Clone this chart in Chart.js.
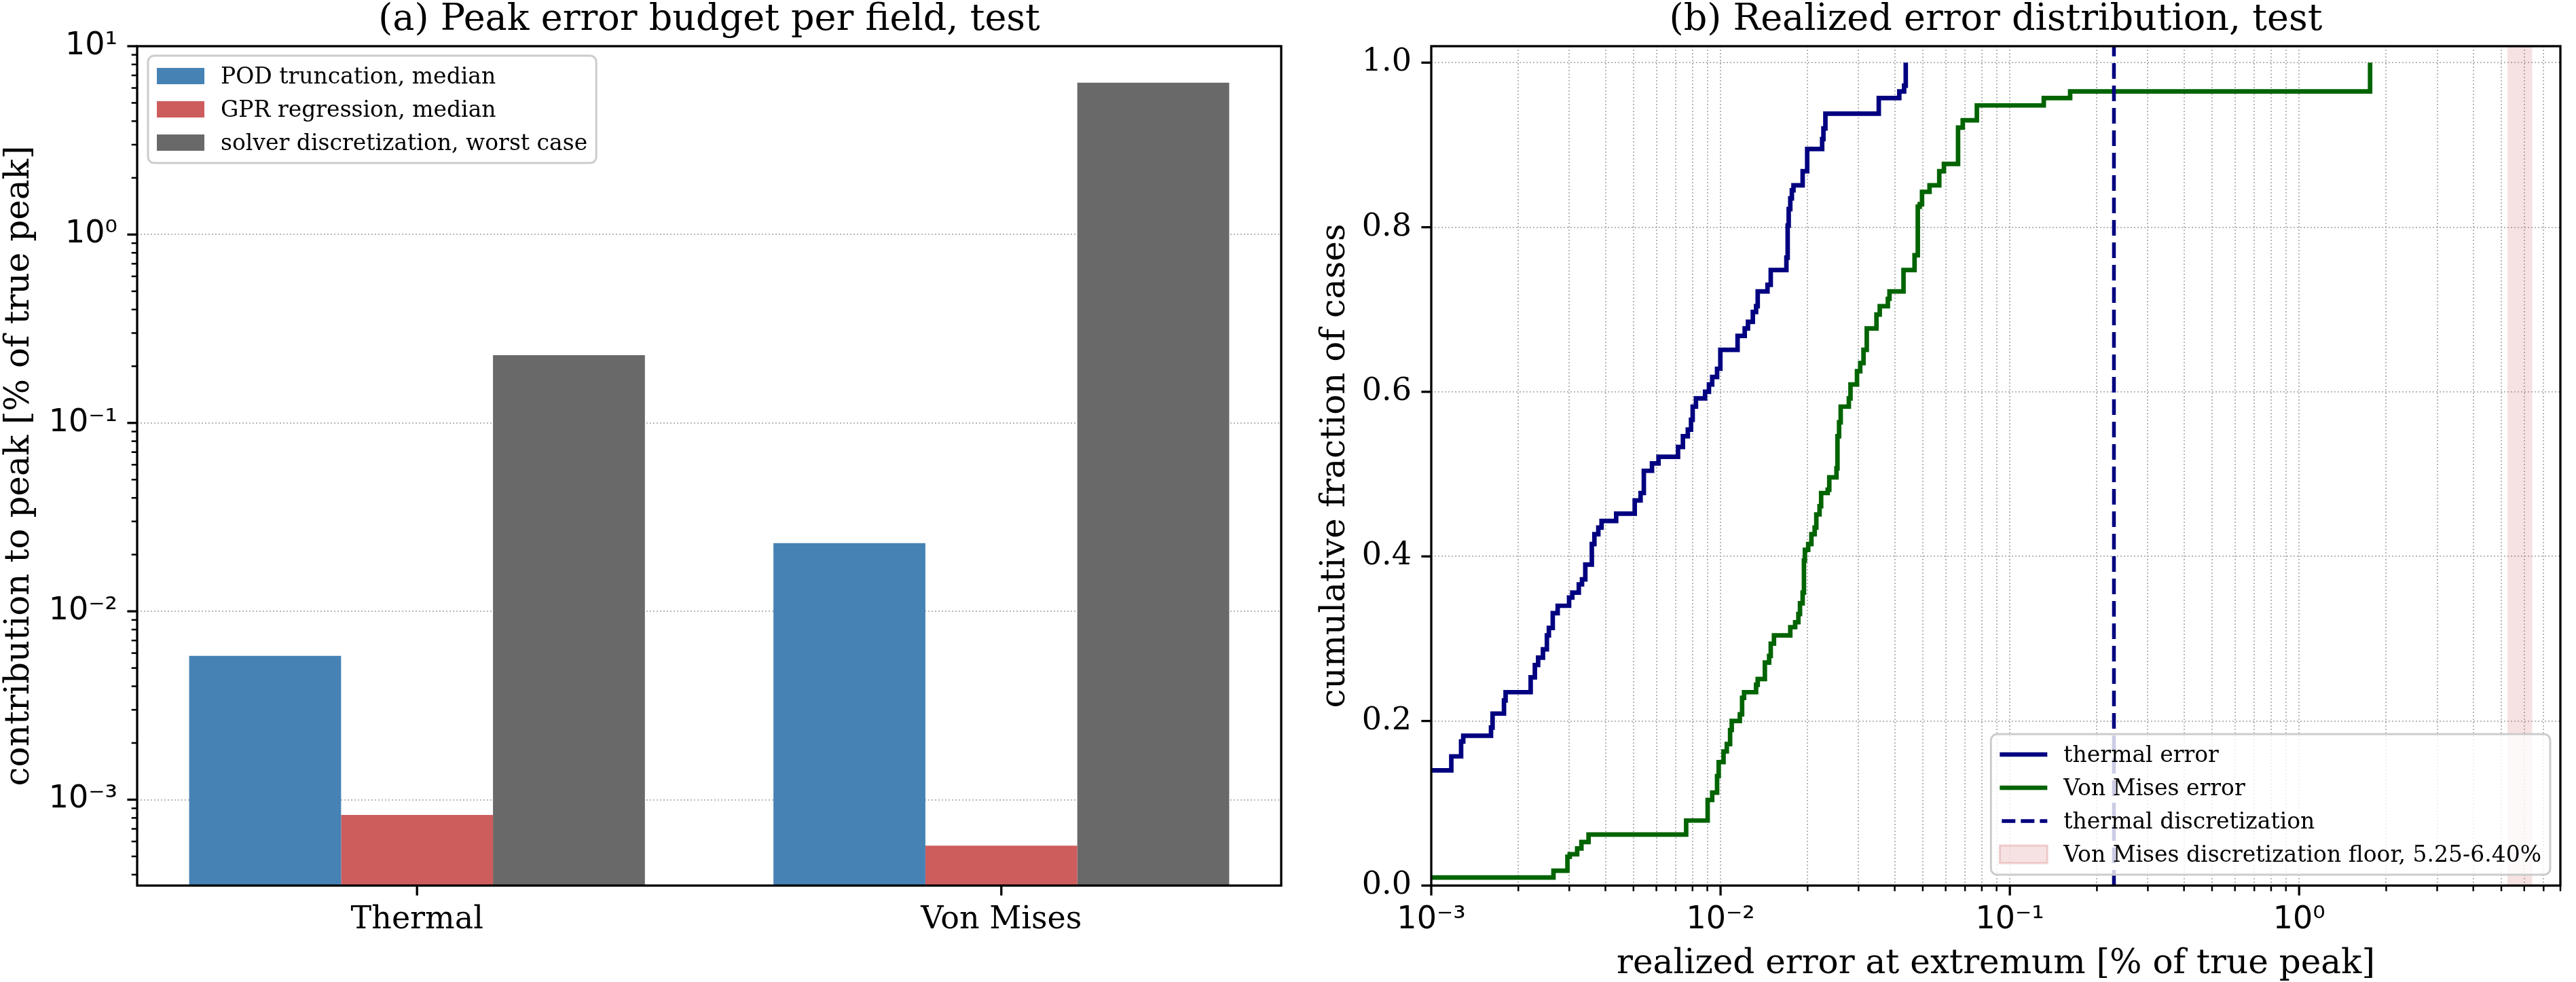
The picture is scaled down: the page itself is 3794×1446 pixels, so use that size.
<!DOCTYPE html>
<html>
<head>
<meta charset="utf-8">
<script src="https://cdn.jsdelivr.net/npm/chart.js@4.4.0/dist/chart.umd.min.js"></script>
<style>
  html, body { margin: 0; padding: 0; background: #fff; }
  #wrap { position: relative; width: 3794px; height: 1446px; overflow: hidden; background: #fff; }
  canvas { position: absolute; top: 0; }
</style>
</head>
<body>
<div id="wrap">
  <canvas id="budget" width="1900" height="1446" style="left:0"></canvas>
  <canvas id="cdf" width="1894" height="1446" style="left:1900px"></canvas>
</div>
<script>
// (a) peak error budget, % of true peak
const fields = ['Thermal', 'Von Mises'];
const podMedian = [0.0058, 0.023];
const gprMedian = [0.00083, 0.00057];
const solverWorst = [0.229, 6.40];

// (b) realized error CDF (x = error %, y = fraction)
const thermalErr = [0.0008, 0.001173, 0.001268, 0.00129, 0.001609, 0.001629, 0.001784, 0.001807, 0.002206, 0.002281,
  0.002341, 0.002433, 0.00251, 0.00255, 0.00263, 0.002735, 0.002995, 0.003073, 0.003236, 0.00332,
  0.003408, 0.003589, 0.003664, 0.00378, 0.003879, 0.004357, 0.00505, 0.005291, 0.00543, 0.005794,
  0.006104, 0.007129, 0.007412, 0.007706, 0.007907, 0.00801, 0.008221, 0.008841, 0.009118, 0.009357,
  0.009727, 0.009983, 0.01145, 0.01212, 0.01244, 0.01293, 0.01327, 0.01344, 0.01453, 0.01491,
  0.01689, 0.01706, 0.0172, 0.01742, 0.01764, 0.01787, 0.01922, 0.01993, 0.02245, 0.02268,
  0.02304, 0.03523, 0.04148, 0.04311, 0.04367];
const thermalCdf = [0.140, 0.157, 0.175, 0.182, 0.192, 0.209, 0.225, 0.235, 0.253, 0.268,
  0.277, 0.287, 0.304, 0.313, 0.331, 0.340, 0.350, 0.356, 0.366, 0.372,
  0.390, 0.415, 0.427, 0.435, 0.443, 0.452, 0.468, 0.477, 0.504, 0.513,
  0.521, 0.533, 0.546, 0.554, 0.566, 0.582, 0.592, 0.600, 0.609, 0.618,
  0.628, 0.651, 0.668, 0.677, 0.685, 0.697, 0.704, 0.722, 0.730, 0.748,
  0.763, 0.802, 0.822, 0.835, 0.845, 0.851, 0.868, 0.895, 0.907, 0.920,
  0.938, 0.957, 0.965, 0.972, 1.0];
const vmErr = [0.0008, 0.002645, 0.002956, 0.003011, 0.003194, 0.003304, 0.003497, 0.007605, 0.009024, 0.009357,
  0.009727, 0.009853, 0.01024, 0.01051, 0.01079, 0.01093, 0.01166, 0.01187, 0.01206, 0.01327,
  0.01344, 0.01423, 0.01472, 0.01491, 0.0153, 0.01742, 0.01811, 0.01858, 0.01882, 0.01922,
  0.01942, 0.01957, 0.02009, 0.02061, 0.02115, 0.02143, 0.02199, 0.02227, 0.02346, 0.02376,
  0.02516, 0.02536, 0.02569, 0.02602, 0.02776, 0.02813, 0.02963, 0.0304, 0.0312, 0.03202,
  0.03459, 0.03551, 0.03788, 0.03837, 0.0429, 0.04684, 0.04806, 0.04882, 0.04971, 0.05277,
  0.05702, 0.05918, 0.06622, 0.06874, 0.07691, 0.131, 0.1616, 1.759];
const vmCdf = [0.0098, 0.018, 0.035, 0.038, 0.045, 0.053, 0.062, 0.079, 0.104, 0.113,
  0.133, 0.150, 0.163, 0.172, 0.189, 0.200, 0.208, 0.228, 0.235, 0.244,
  0.251, 0.271, 0.279, 0.294, 0.304, 0.314, 0.320, 0.330, 0.343, 0.356,
  0.395, 0.408, 0.415, 0.427, 0.435, 0.451, 0.461, 0.477, 0.481, 0.496,
  0.507, 0.546, 0.563, 0.582, 0.592, 0.609, 0.625, 0.635, 0.651, 0.677,
  0.694, 0.704, 0.713, 0.722, 0.748, 0.766, 0.825, 0.828, 0.843, 0.851,
  0.868, 0.877, 0.921, 0.930, 0.948, 0.957, 0.965, 1.0];
const thermalDisc = 0.229;
const vmFloor = [5.25, 6.40];
const cdfTicks = [0, 0.2, 0.4, 0.6, 0.8, 1.0];

const SERIF = '"DejaVu Serif", serif';
const SANS = '"DejaVu Sans", sans-serif';
const GRID = 'rgba(170,170,170,0.85)';
Chart.defaults.font.family = SERIF;
Chart.defaults.color = '#000';

const SUP = { '-': '\u207B', '0': '\u2070', '1': '\u00B9', '2': '\u00B2', '3': '\u00B3' };
const isPow10 = v => Math.abs(Math.log10(v) - Math.round(Math.log10(v))) < 1e-6;
const pow10Label = v => '10' + String(Math.round(Math.log10(v))).split('').map(c => SUP[c]).join('');
const toPoints = (xs, ys) => xs.map((x, i) => ({ x: x, y: ys[i] }));

// log ticks with minor ones (2..9 per decade)
function logTicks(min, max) {
  const out = [];
  for (let k = Math.floor(Math.log10(min)); k <= Math.ceil(Math.log10(max)); k++) {
    for (let m = 1; m <= 9; m++) {
      const v = m * Math.pow(10, k);
      if (v >= min * 0.9999 && v <= max * 1.0001) out.push({ value: v, minor: m !== 1 });
    }
  }
  return out;
}

function roundBox(ctx, x, y, w, h, r) {
  ctx.beginPath();
  ctx.moveTo(x + r, y);
  ctx.lineTo(x + w - r, y);
  ctx.arcTo(x + w, y, x + w, y + r, r);
  ctx.lineTo(x + w, y + h - r);
  ctx.arcTo(x + w, y + h, x + w - r, y + h, r);
  ctx.lineTo(x + r, y + h);
  ctx.arcTo(x, y + h, x, y + h - r, r);
  ctx.lineTo(x, y + r);
  ctx.arcTo(x, y, x + r, y, r);
  ctx.closePath();
}

function drawLegend(ctx, a, lg) {
  const fs = 33, pad = 13, hl = 70, gap = 24, pitch = 49;
  ctx.font = fs + 'px ' + SERIF;
  const tw = Math.max(...lg.items.map(it => ctx.measureText(it.label).width));
  const w = pad + hl + gap + tw + pad;
  const h = 60 + (lg.items.length - 1) * pitch;
  const x = lg.corner === 'tl' ? a.left + 16 : a.right - 15 - w;
  const y = lg.corner === 'tl' ? a.top + 14 : a.bottom - 16 - h;
  roundBox(ctx, x, y, w, h, 9);
  ctx.fillStyle = 'rgba(255,255,255,0.8)';
  ctx.fill();
  ctx.lineWidth = 3;
  ctx.strokeStyle = '#cccccc';
  ctx.stroke();
  lg.items.forEach((it, i) => {
    const cy = y + 30 + i * pitch;
    const hx = x + pad;
    ctx.setLineDash([]);
    if (it.kind === 'patch') {
      ctx.fillStyle = it.color;
      ctx.fillRect(hx, cy - 12, hl, 24);
    } else if (it.kind === 'band') {
      ctx.fillStyle = it.color;
      ctx.fillRect(hx, cy - 13, hl, 26);
      ctx.strokeStyle = 'rgba(205,92,92,0.25)';
      ctx.lineWidth = 3;
      ctx.strokeRect(hx, cy - 13, hl, 26);
    } else {
      ctx.strokeStyle = it.color;
      ctx.lineWidth = it.width;
      if (it.dash) ctx.setLineDash(it.dash);
      ctx.beginPath();
      ctx.moveTo(hx + (it.dash ? 3 : 0), cy);
      ctx.lineTo(hx + hl, cy);
      ctx.stroke();
      ctx.setLineDash([]);
    }
    ctx.fillStyle = '#000';
    ctx.textAlign = 'left';
    ctx.textBaseline = 'alphabetic';
    ctx.fillText(it.label, hx + hl + gap, cy + 11);
  });
}

// spines, tick marks, titles, axis labels and legend
const framePlugin = {
  id: 'frame',
  afterDraw(chart, args, opts) {
    const ctx = chart.ctx;
    const a = chart.chartArea;
    ctx.save();
    ctx.strokeStyle = '#000';
    Object.values(chart.scales).forEach(scale => {
      scale.ticks.forEach(t => {
        const len = t.minor ? 8.3 : 14.6;
        ctx.lineWidth = t.minor ? 2.5 : 3.3;
        const p = scale.getPixelForValue(t.value);
        ctx.beginPath();
        if (scale.isHorizontal()) { ctx.moveTo(p, a.bottom); ctx.lineTo(p, a.bottom + len); }
        else { ctx.moveTo(a.left, p); ctx.lineTo(a.left - len, p); }
        ctx.stroke();
      });
    });
    ctx.lineWidth = 3.3;
    ctx.strokeRect(a.left, a.top, a.right - a.left, a.bottom - a.top);

    ctx.fillStyle = '#000';
    ctx.textAlign = 'center';
    ctx.textBaseline = 'alphabetic';
    ctx.font = '54px ' + SERIF;
    ctx.fillText(opts.title, (a.left + a.right) / 2, 44);
    ctx.font = '50px ' + SERIF;
    if (opts.xlabel) ctx.fillText(opts.xlabel, (a.left + a.right) / 2, 1433);
    ctx.save();
    ctx.translate(opts.ylabelX, (a.top + a.bottom) / 2);
    ctx.rotate(-Math.PI / 2);
    ctx.fillText(opts.ylabel, 0, 0);
    ctx.restore();

    drawLegend(ctx, a, opts.legend);
    ctx.restore();
  }
};

// ---------- (a) bar chart
new Chart(document.getElementById('budget'), {
  type: 'bar',
  data: {
    datasets: [
      { label: 'POD truncation, median', data: toPoints(fields.map((f, i) => i), podMedian), backgroundColor: '#4682b4' },
      { label: 'GPR regression, median', data: toPoints(fields.map((f, i) => i), gprMedian), backgroundColor: '#cd5c5c' },
      { label: 'solver discretization, worst case', data: toPoints(fields.map((f, i) => i), solverWorst), backgroundColor: '#696969' }
    ]
  },
  options: {
    responsive: false,
    animation: false,
    devicePixelRatio: 1,
    datasets: { bar: { categoryPercentage: 0.78, barPercentage: 1.0 } },
    layout: { padding: { left: 0, right: 13, top: 68, bottom: 0 } },
    scales: {
      x: {
        type: 'linear', min: -0.479, max: 1.479, offset: false,
        afterBuildTicks: s => { s.ticks = fields.map((f, i) => ({ value: i })); },
        afterFit: s => { s.height = 142; },
        grid: { display: false, drawTicks: false, offset: false },
        border: { display: false },
        ticks: { padding: 23, font: { family: SERIF, size: 46 }, color: '#000', maxRotation: 0, autoSkip: false,
          callback: v => fields[v] !== undefined ? fields[v] : '' }
      },
      y: {
        type: 'logarithmic', min: 3.5e-4, max: 10, z: 1,
        afterBuildTicks: s => { s.ticks = logTicks(3.5e-4, 10); },
        afterFit: s => { s.width = 202; },
        grid: { drawTicks: false, lineWidth: 2, color: c => (c.tick && isPow10(c.tick.value)) ? GRID : 'rgba(0,0,0,0)' },
        border: { display: false, dash: [2, 3] },
        ticks: { padding: 29, font: { family: SANS, size: 46 }, color: '#000', autoSkip: false,
          callback: v => isPow10(v) ? pow10Label(v) : '' }
      }
    },
    plugins: {
      legend: { display: false },
      tooltip: { enabled: false },
      frame: {
        title: '(a) Peak error budget per field, test',
        ylabel: 'contribution to peak [% of true peak]',
        ylabelX: 42,
        legend: { corner: 'tl', items: [
          { label: 'POD truncation, median', kind: 'patch', color: '#4682b4' },
          { label: 'GPR regression, median', kind: 'patch', color: '#cd5c5c' },
          { label: 'solver discretization, worst case', kind: 'patch', color: '#696969' }
        ] }
      }
    }
  },
  plugins: [framePlugin]
});

// ---------- (b) CDF chart
new Chart(document.getElementById('cdf'), {
  type: 'line',
  data: {
    datasets: [
      { label: 'thermal discretization', data: [{ x: thermalDisc, y: 0 }, { x: thermalDisc, y: 1.02 }],
        borderColor: '#000080', borderWidth: 5.5, borderDash: [23, 10], pointRadius: 0, fill: false, order: 1 },
      { label: 'thermal error', data: toPoints(thermalErr, thermalCdf), borderColor: '#000080', borderWidth: 6.7,
        stepped: true, pointRadius: 0, fill: false, borderJoinStyle: 'miter', order: 3 },
      { label: 'Von Mises error', data: toPoints(vmErr, vmCdf), borderColor: '#006400', borderWidth: 6.7,
        stepped: true, pointRadius: 0, fill: false, borderJoinStyle: 'miter', order: 2 },
      { label: 'Von Mises discretization floor, 5.25-6.40%', data: [{ x: vmFloor[0], y: 1.02 }, { x: vmFloor[1], y: 1.02 }],
        borderWidth: 0, pointRadius: 0, backgroundColor: 'rgba(205,92,92,0.18)', fill: 'start', order: 4 }
    ]
  },
  options: {
    responsive: false,
    animation: false,
    devicePixelRatio: 1,
    layout: { padding: { left: 0, right: 4, top: 68, bottom: 0 } },
    scales: {
      x: {
        type: 'logarithmic', min: 1e-3, max: 8,
        afterBuildTicks: s => { s.ticks = logTicks(1e-3, 8); },
        afterFit: s => { s.height = 142; },
        grid: { drawTicks: false, lineWidth: 2, color: GRID },
        border: { display: false, dash: [2, 3] },
        ticks: { padding: 23, font: { family: SANS, size: 46 }, color: '#000', maxRotation: 0, autoSkip: false,
          callback: v => isPow10(v) ? pow10Label(v) : '' }
      },
      y: {
        type: 'linear', min: 0, max: 1.02,
        afterBuildTicks: s => { s.ticks = cdfTicks.map(v => ({ value: v })); },
        afterFit: s => { s.width = 208; },
        grid: { drawTicks: false, lineWidth: 2, color: GRID },
        border: { display: false, dash: [2, 3] },
        ticks: { padding: 29, font: { family: SERIF, size: 46 }, color: '#000', autoSkip: false,
          callback: v => Number(v).toFixed(1) }
      }
    },
    plugins: {
      legend: { display: false },
      tooltip: { enabled: false },
      frame: {
        title: '(b) Realized error distribution, test',
        xlabel: 'realized error at extremum [% of true peak]',
        ylabel: 'cumulative fraction of cases',
        ylabelX: 80,
        legend: { corner: 'br', items: [
          { label: 'thermal error', kind: 'line', color: '#000080', width: 6.7 },
          { label: 'Von Mises error', kind: 'line', color: '#006400', width: 6.7 },
          { label: 'thermal discretization', kind: 'line', color: '#000080', width: 5.5, dash: [20, 8] },
          { label: 'Von Mises discretization floor, 5.25-6.40%', kind: 'band', color: 'rgba(205,92,92,0.18)' }
        ] }
      }
    }
  },
  plugins: [framePlugin]
});
</script>
</body>
</html>
